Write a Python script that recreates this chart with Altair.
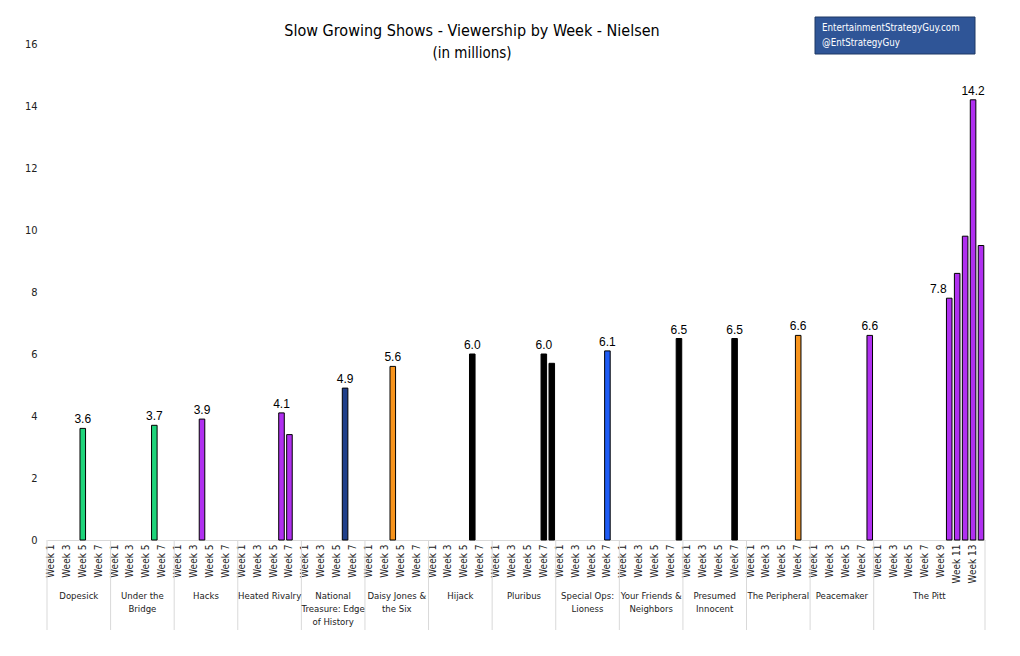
import altair as alt
import pandas as pd

# ---------------- data ----------------
shows = ["Dopesick", "Under the Bridge", "Hacks", "Heated Rivalry",
         "National Treasure: Edge of History", "Daisy Jones & the Six", "Hijack",
         "Pluribus", "Special Ops: Lioness", "Your Friends & Neighbors",
         "Presumed Innocent", "The Peripheral", "Peacemaker", "The Pitt"]
show_labels = ["Dopesick", "Under the\nBridge", "Hacks", "Heated Rivalry",
               "National\nTreasure: Edge\nof History", "Daisy Jones &\nthe Six", "Hijack",
               "Pluribus", "Special Ops:\nLioness", "Your Friends &\nNeighbors",
               "Presumed\nInnocent", "The Peripheral", "Peacemaker", "The Pitt"]
networks = ["Hulu", "Hulu", "HBO", "HBO", "Disney+", "Prime", "Apple",
            "Apple", "Paramount+", "Apple", "Apple", "Prime", "HBO", "HBO"]
weeks_per_show = [8, 8, 8, 8, 8, 8, 8, 8, 8, 8, 8, 8, 8, 14]

bar_show = ["Dopesick", "Under the Bridge", "Hacks", "Heated Rivalry", "Heated Rivalry",
            "National Treasure: Edge of History", "Daisy Jones & the Six", "Hijack",
            "Pluribus", "Pluribus", "Special Ops: Lioness", "Your Friends & Neighbors",
            "Presumed Innocent", "The Peripheral", "Peacemaker",
            "The Pitt", "The Pitt", "The Pitt", "The Pitt", "The Pitt"]
bar_week = [5, 6, 4, 6, 7, 6, 4, 6, 7, 8, 7, 8, 7, 7, 8, 10, 11, 12, 13, 14]
bar_value = [3.6, 3.7, 3.9, 4.1, 3.4, 4.9, 5.6, 6.0, 6.0, 5.7, 6.1, 6.5, 6.5, 6.6, 6.6,
             7.8, 8.6, 9.8, 14.2, 9.5]
bar_labeled = [True, True, True, True, False, True, True, True, True, False, True, True,
               True, True, True, True, False, False, True, False]

net_domain = ["Hulu", "HBO", "Disney+", "Prime", "Apple", "Paramount+"]
net_colors = ["#1ED47A", "#B030F0", "#1F3F8A", "#F7941D", "#000000", "#1F5CF5"]

# ---------------- derived tables ----------------
domain = []
starts = []
pos = 0
for i, n in enumerate(weeks_per_show):
    starts.append(pos)
    for w in range(1, n + 1):
        domain.append(f"{i:02d}|{w}")
    pos += n
total_slots = pos

bars = pd.DataFrame({
    "show": bar_show,
    "week": bar_week,
    "value": bar_value,
    "labeled": bar_labeled,
})
bars["key"] = [f"{shows.index(s):02d}|{w}" for s, w in zip(bar_show, bar_week)]
bars["network"] = [networks[shows.index(s)] for s in bar_show]
bars["txt"] = bars["value"].map(lambda v: f"{v:.1f}")
bars["first_pitt"] = [(s == "The Pitt" and w == 10) for s, w in zip(bar_show, bar_week)]

seps = pd.DataFrame({"pos": starts + [total_slots]})
groups = pd.DataFrame({
    "center": [s + n / 2 for s, n in zip(starts, weeks_per_show)],
    "label": show_labels,
})

W, H = 938, 496
COND = "DejaVu Sans Condensed, Liberation Sans Narrow, sans-serif"
ARIAL = "Liberation Sans, Arial, sans-serif"

xband = alt.X("key:N",
              scale=alt.Scale(domain=domain, paddingInner=0.3, paddingOuter=0.15),
              axis=alt.Axis(title=None, labelAngle=270, ticks=False,
                            labelExpr="toNumber(split(datum.label,'|')[1]) % 2 == 1 ? 'Week ' + split(datum.label,'|')[1] : ''",
                            domainColor="#d9d9d9", labelFont=COND, labelFontSize=10,
                            labelColor="#222222", labelPadding=4, labelOverlap=False,
                            labelBound=False))
yq = alt.Y("value:Q", scale=alt.Scale(domain=[0, 16], nice=False),
           axis=alt.Axis(title=None, values=list(range(0, 17, 2)), grid=False,
                         domain=False, ticks=False, labelFont=COND, labelFontSize=11,
                         labelColor="#222222", labelPadding=10,
                         minExtent=34, maxExtent=34))

bar_layer = alt.Chart(bars).mark_bar(stroke="black", strokeWidth=1).encode(
    x=xband, y=yq,
    color=alt.Color("network:N", scale=alt.Scale(domain=net_domain, range=net_colors),
                    legend=None),
)

lab_layer = alt.Chart(bars).transform_filter(
    "datum.labeled && !datum.first_pitt"
).mark_text(dy=-9, font=ARIAL, fontSize=12, color="black").encode(
    x=xband, y=yq, text="txt:N"
)
lab_pitt = alt.Chart(bars).transform_filter(
    "datum.first_pitt"
).mark_text(dy=-9, dx=-11, font=ARIAL, fontSize=12, color="black").encode(
    x=xband, y=yq, text="txt:N"
)

xq = alt.X("pos:Q", scale=alt.Scale(domain=[0, total_slots], nice=False, zero=False),
           axis=None)
sep_layer = alt.Chart(seps).mark_rule(color="#d9d9d9", strokeWidth=1).encode(
    x=xq, y=alt.value(H), y2=alt.value(H + 90)
)
grp_layer = alt.Chart(groups).mark_text(
    font=COND, fontSize=9.5, color="#222222", baseline="top", align="center",
    lineBreak="\n", lineHeight=13
).encode(
    x=alt.X("center:Q", scale=alt.Scale(domain=[0, total_slots], nice=False, zero=False),
            axis=None),
    y=alt.value(H + 51),
    text="label:N",
)

one = pd.DataFrame({"a": [0]})
title_layer = alt.Chart(one).mark_text(
    font=COND, fontSize=16, fontWeight="normal", color="black", baseline="middle"
).encode(x=alt.value(425), y=alt.value(-13),
         text=alt.value("Slow Growing Shows - Viewership by Week - Nielsen"))
sub_layer = alt.Chart(one).mark_text(
    font=COND, fontSize=15, color="black", baseline="middle"
).encode(x=alt.value(425), y=alt.value(9), text=alt.value("(in millions)"))

box_layer = alt.Chart(one).mark_rect(fill="#2F5597", stroke="#1F3864", strokeWidth=1).encode(
    x=alt.value(768), x2=alt.value(928), y=alt.value(-27), y2=alt.value(10)
)
box_t1 = alt.Chart(one).mark_text(
    font=COND, fontSize=9.7, color="white", align="left", baseline="middle"
).encode(x=alt.value(775), y=alt.value(-16), text=alt.value("EntertainmentStrategyGuy.com"))
box_t2 = alt.Chart(one).mark_text(
    font=COND, fontSize=9.7, color="white", align="left", baseline="middle"
).encode(x=alt.value(775), y=alt.value(-1), text=alt.value("@EntStrategyGuy"))

main = alt.layer(bar_layer, lab_layer, lab_pitt)
deco = alt.layer(sep_layer, grp_layer)

chart = alt.layer(main, deco, title_layer, sub_layer, box_layer, box_t1, box_t2).resolve_scale(
    x="independent"
).properties(
    width=W, height=H,
    autosize=alt.AutoSizeParams(type="none"),
    padding={"left": 39, "top": 36, "right": 20, "bottom": 110},
).configure_view(stroke=None)

chart.save("out.html", embed_options={"renderer": "svg", "actions": False})
